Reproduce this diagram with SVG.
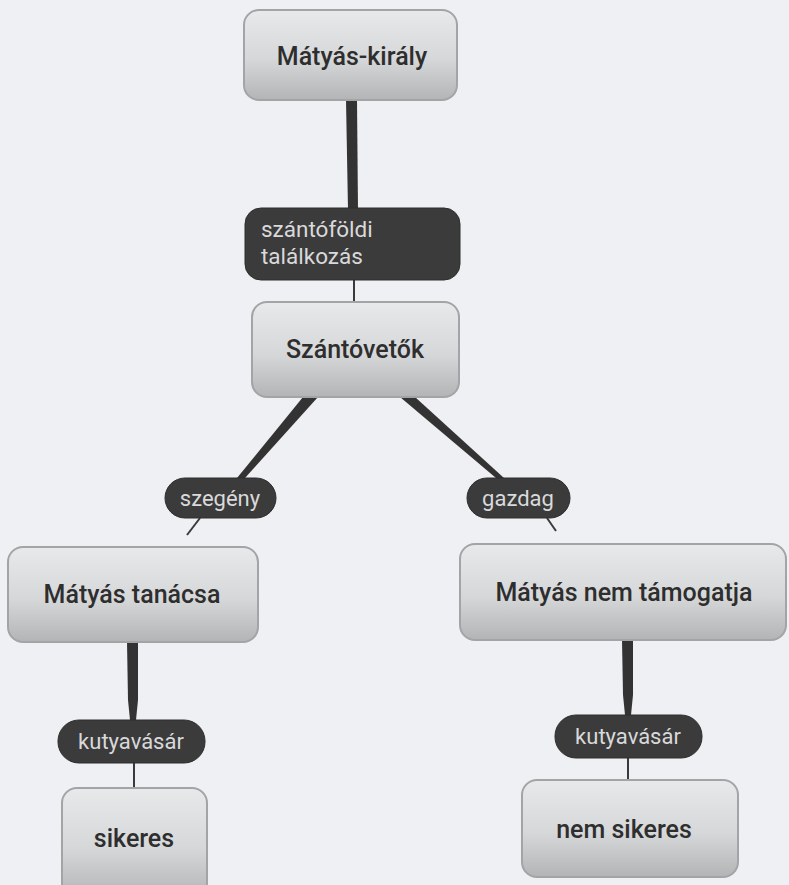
<svg xmlns="http://www.w3.org/2000/svg" width="789" height="885" viewBox="0 0 789 885">
<defs>
<linearGradient id="ng" x1="0" y1="0" x2="0" y2="1">
<stop offset="0" stop-color="#e8e9eb"/>
<stop offset="0.55" stop-color="#d6d7d9"/>
<stop offset="1" stop-color="#b3b4b6"/>
</linearGradient>
<style>
.node{fill:url(#ng);stroke:#a3a4a6;stroke-width:2}
.ntext{font-family:Roboto,"Liberation Sans",sans-serif;font-size:25px;font-weight:500;fill:#2e2e2e;text-anchor:middle}
.pill{fill:#3b3b3c;stroke:#2e2e2e;stroke-width:1}
.ptext{font-family:Roboto,"Liberation Sans",sans-serif;font-size:22px;fill:#d9d9da;text-anchor:middle}
.ptextl{font-family:Roboto,"Liberation Sans",sans-serif;font-size:22.5px;fill:#d9d9da}
.thick{fill:#333334}
.thin{stroke:#3a3a3a;stroke-width:2;fill:none}
</style>
</defs>
<rect x="0" y="0" width="789" height="885" fill="#eef0f3"/>
<g id="connectors">
<polygon class="thick" points="346,100 357,100 358,210 348,210"/>
<line class="thin" x1="354" y1="280" x2="354" y2="303"/>
<polygon class="thick" points="303,397 318,397 245,478 237,478"/>
<polygon class="thick" points="400,397 415,397 504,478 496,478"/>
<line class="thin" x1="200" y1="518" x2="187" y2="535"/>
<line class="thin" x1="547" y1="518" x2="556" y2="531"/>
<polygon class="thick" points="127,642 138,642 138,700 136,720 130,720 128,700"/>
<line class="thin" x1="134" y1="763" x2="134" y2="789"/>
<polygon class="thick" points="622,640 633,640 633,695 631,715 625,715 623,695"/>
<line class="thin" x1="628" y1="758" x2="628" y2="781"/>
</g>
<g id="n-matyas-kiraly">
<rect class="node" x="244" y="10" width="213" height="90" rx="15"/>
<text class="ntext" x="352" y="65">Mátyás-király</text>
</g>
<g id="n-szantofoldi">
<rect class="pill" x="245" y="208" width="215" height="72" rx="16"/>
<text class="ptextl" x="261" y="237">szántóföldi</text>
<text class="ptextl" x="261" y="264">találkozás</text>
</g>
<g id="n-szantovetok">
<rect class="node" x="252" y="302" width="207" height="95" rx="15"/>
<text class="ntext" x="355" y="358">Szántóvetők</text>
</g>
<g id="n-szegeny">
<rect class="pill" x="165" y="478" width="111" height="40" rx="20"/>
<text class="ptext" x="220" y="506">szegény</text>
</g>
<g id="n-gazdag">
<rect class="pill" x="467" y="478" width="103" height="40" rx="20"/>
<text class="ptext" x="518" y="506">gazdag</text>
</g>
<g id="n-matyas-tanacsa">
<rect class="node" x="8" y="547" width="250" height="95" rx="15"/>
<text class="ntext" x="132" y="603">Mátyás tanácsa</text>
</g>
<g id="n-matyas-nem-tamogatja">
<rect class="node" x="460" y="544" width="326" height="96" rx="15"/>
<text class="ntext" x="624" y="601">Mátyás nem támogatja</text>
</g>
<g id="n-kutyavasar-1">
<rect class="pill" x="58" y="720" width="147" height="43" rx="21"/>
<text class="ptext" x="131" y="749">kutyavásár</text>
</g>
<g id="n-kutyavasar-2">
<rect class="pill" x="555" y="715" width="147" height="43" rx="21"/>
<text class="ptext" x="628" y="744">kutyavásár</text>
</g>
<g id="n-sikeres">
<rect class="node" x="62" y="788" width="145" height="110" rx="15"/>
<text class="ntext" x="134" y="847">sikeres</text>
</g>
<g id="n-nem-sikeres">
<rect class="node" x="522" y="780" width="216" height="97" rx="15"/>
<text class="ntext" x="624" y="838">nem sikeres</text>
</g>
</svg>
